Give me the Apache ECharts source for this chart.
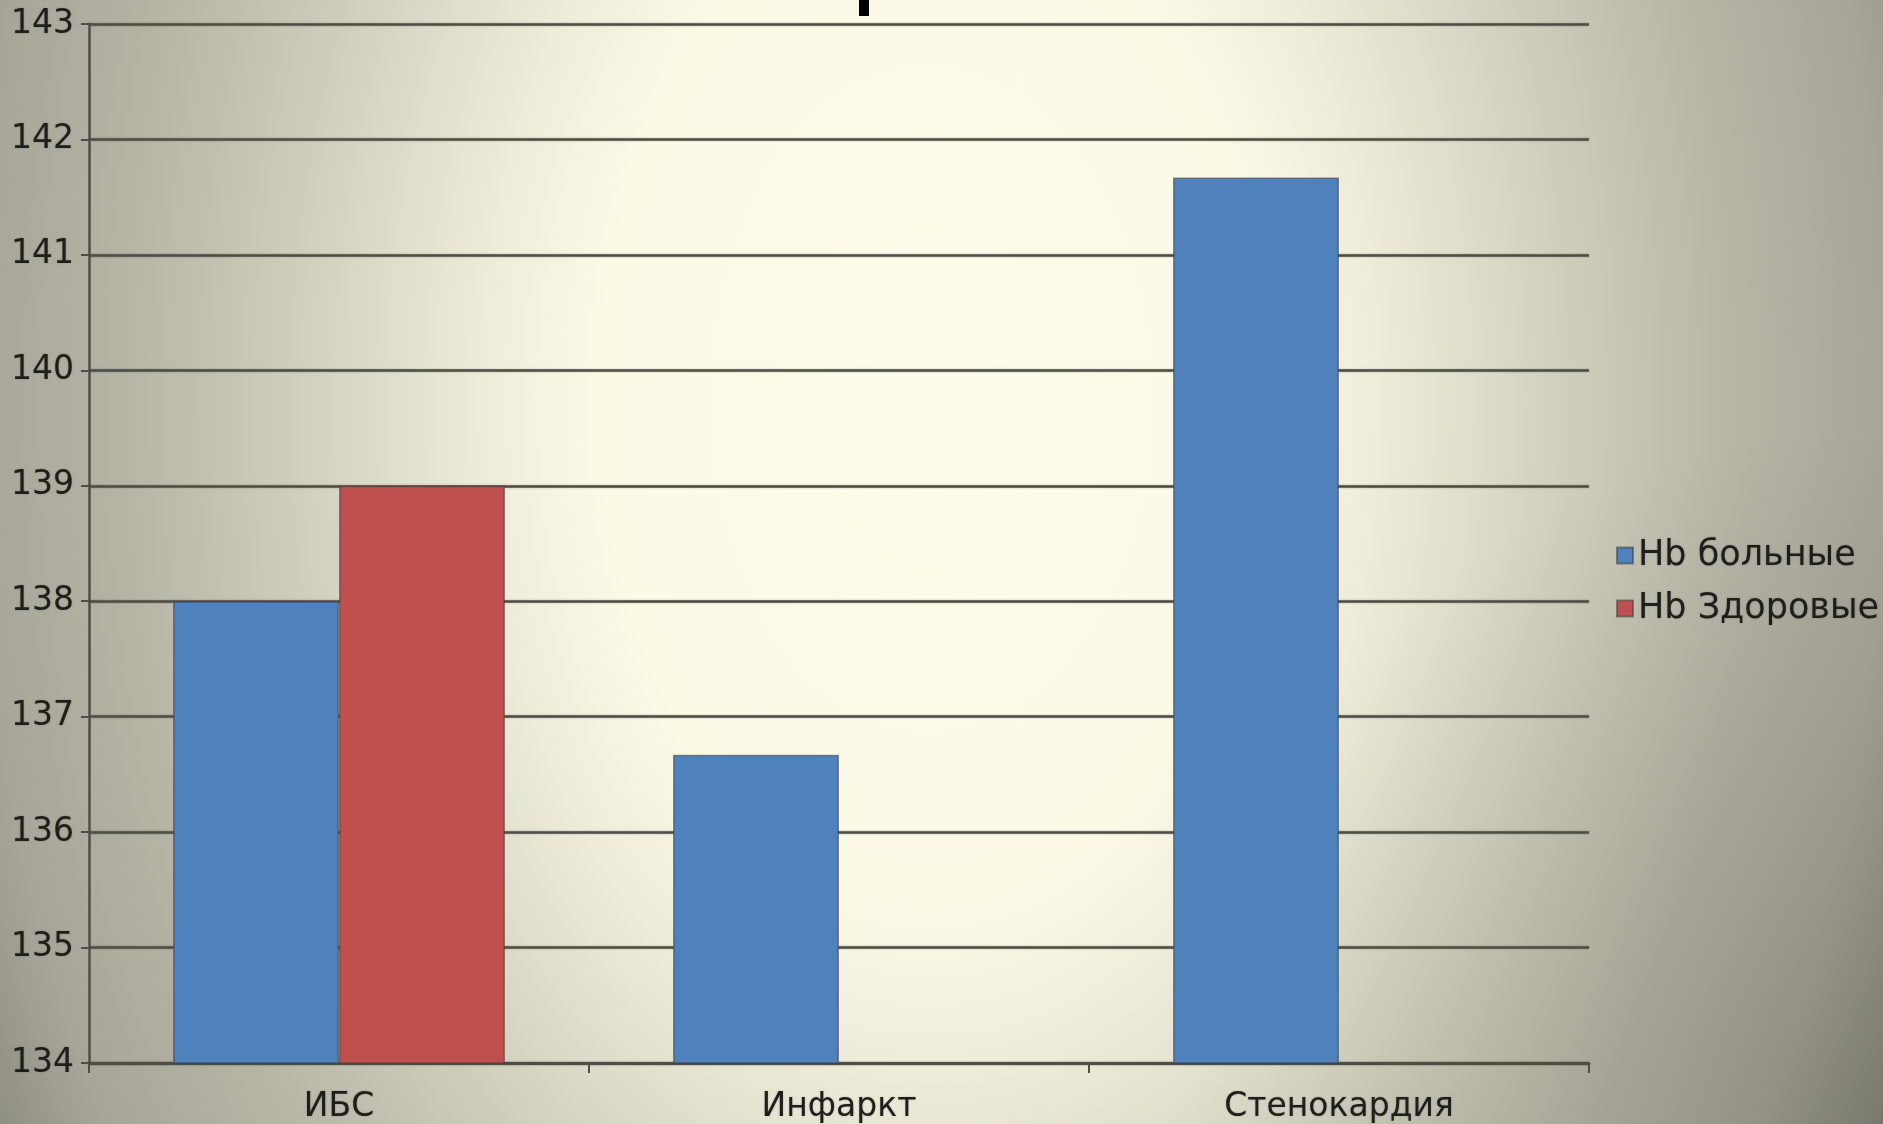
<!DOCTYPE html>
<html>
<head>
<meta charset="utf-8">
<script src="https://cdn.jsdelivr.net/npm/echarts@6/dist/echarts.min.js"></script>
<style>
  html, body { margin: 0; padding: 0; width: 1883px; height: 1124px; overflow: hidden; }
  body {
    background:
      radial-gradient(circle 700px at 1883px 1124px, rgba(40,40,30,0.18) 0%, rgba(40,40,30,0) 100%),
      radial-gradient(ellipse 1000px 1500px at 930px 400px,
        #fdfbea 0%, #fcf9e5 33%, #eeecd9 45%, #dcdac8 56%, #c9c8b7 68%,
        #b4b3a4 82%, #a6a597 96%, #8f8f82 105%, #78786d 112%);
  }
  #chart { width: 1883px; height: 1124px; }
</style>
</head>
<body>
<div id="chart"></div>
<script>
// Haemoglobin levels by diagnosis
const categories = ['ИБС', 'Инфаркт', 'Стенокардия'];
const seriesNames = ['Hb больные', 'Hb Здоровые'];
const hbPatients = [138, 136.67, 141.67];
const hbHealthy = [139, null, null];
const yMin = 134;
const yMax = 143;
const yStep = 1;

const chart = echarts.init(document.getElementById('chart'), null, { renderer: 'canvas' });

const gridLine = {
  color: '#4e4e48',
  width: 2.5,
  shadowBlur: 2,
  shadowColor: 'rgba(0,0,0,0.35)'
};
const labelFont = {
  fontFamily: 'DejaVu Sans',
  color: '#1e1e1c',
  textShadowBlur: 2,
  textShadowColor: 'rgba(0,0,0,0.25)'
};

chart.setOption({
  backgroundColor: 'transparent',
  animation: false,
  grid: { left: 89, right: 294, top: 24, bottom: 60, containLabel: false },
  legend: {
    orient: 'vertical',
    left: 1611,
    top: 533,
    itemWidth: 16,
    itemHeight: 16,
    itemGap: 18,
    icon: 'rect',
    data: seriesNames,
    textStyle: Object.assign({ fontSize: 35, lineHeight: 34 }, labelFont)
  },
  xAxis: {
    type: 'category',
    data: categories,
    axisLine: { show: true, lineStyle: gridLine },
    axisTick: { show: true, length: 10, lineStyle: { color: '#4e4e48', width: 2 } },
    axisLabel: Object.assign({ fontSize: 33, margin: 28 }, labelFont),
    splitLine: { show: false }
  },
  yAxis: {
    type: 'value',
    min: yMin,
    max: yMax,
    interval: yStep,
    axisLine: { show: true, lineStyle: { color: '#4e4e48', width: 2.5 } },
    axisTick: { show: true, length: 8, lineStyle: { color: '#4e4e48', width: 2 } },
    axisLabel: Object.assign({ fontSize: 33, margin: 15 }, labelFont),
    splitLine: { show: true, lineStyle: gridLine }
  },
  series: [
    {
      name: seriesNames[0],
      type: 'bar',
      data: hbPatients,
      barGap: '0%',
      barCategoryGap: '33.6%',
      itemStyle: { color: '#4f81bd', borderColor: 'rgba(60,60,60,0.55)', borderWidth: 1.5 }
    },
    {
      name: seriesNames[1],
      type: 'bar',
      data: hbHealthy,
      barGap: '0%',
      barCategoryGap: '33.6%',
      itemStyle: { color: '#c0504d', borderColor: 'rgba(60,60,60,0.55)', borderWidth: 1.5 }
    }
  ],
  graphic: [
    { type: 'rect', left: 859, top: 0, shape: { width: 10, height: 16 }, style: { fill: '#000' } }
  ]
});
</script>
</body>
</html>
